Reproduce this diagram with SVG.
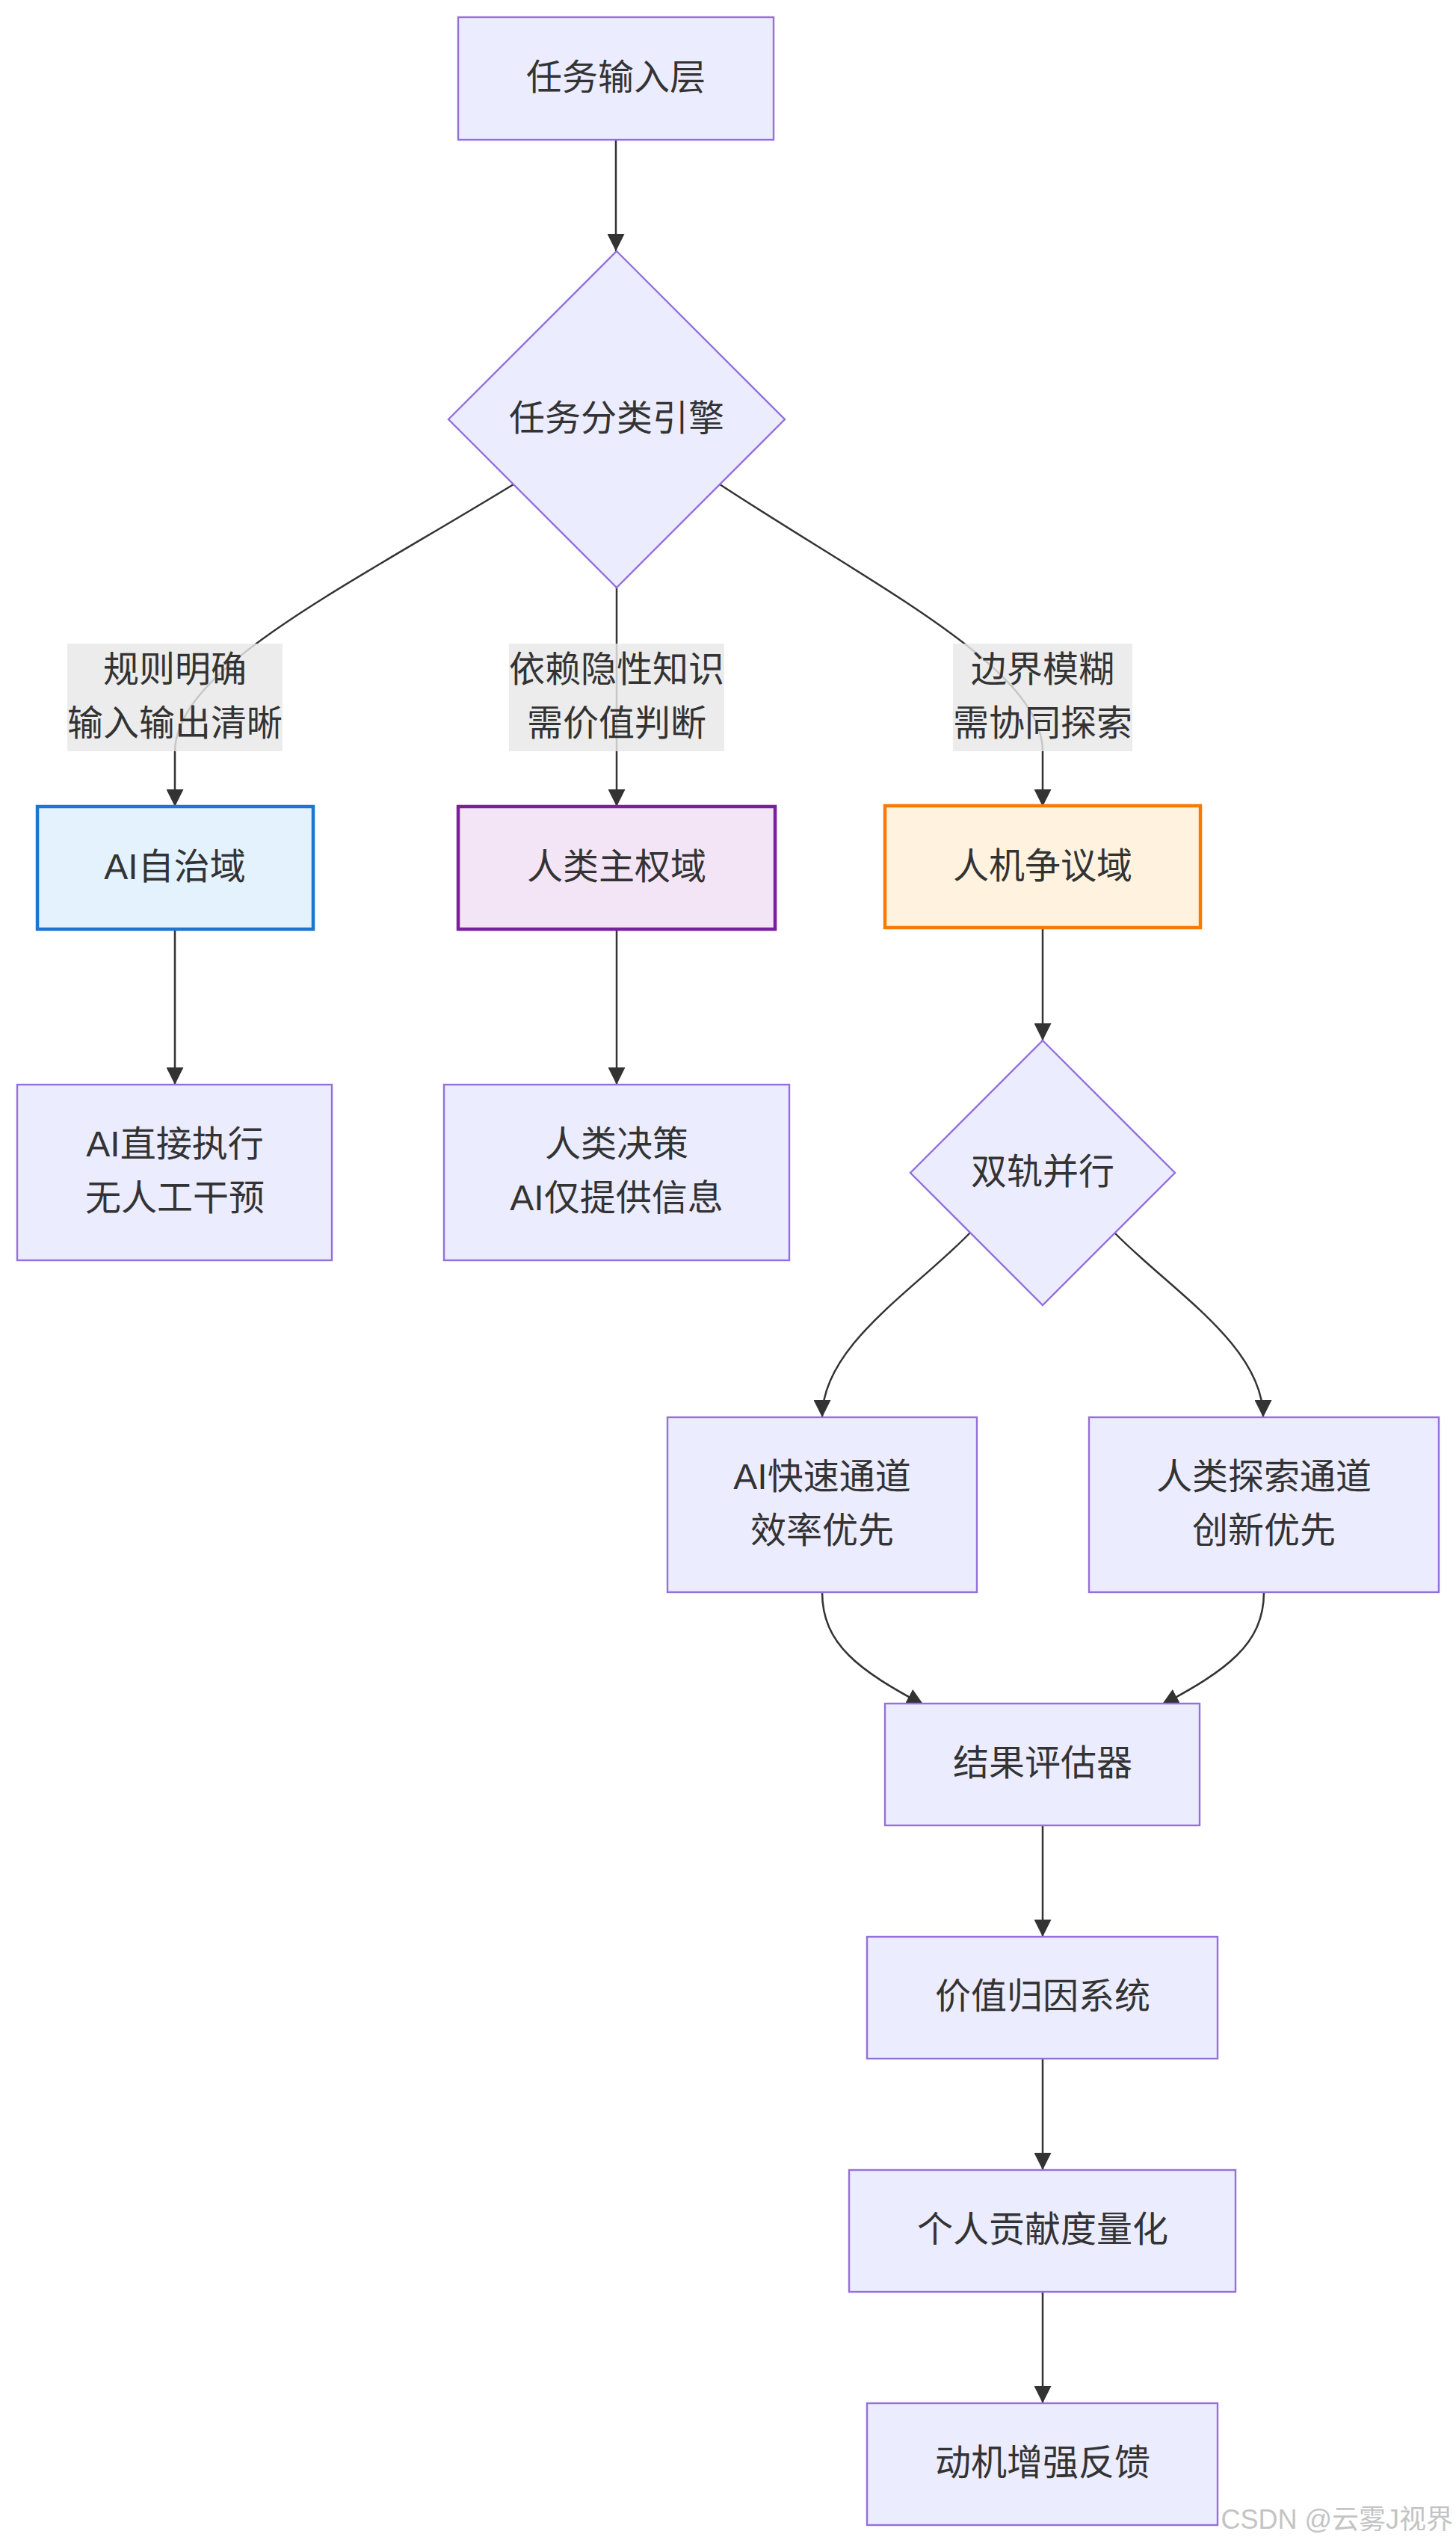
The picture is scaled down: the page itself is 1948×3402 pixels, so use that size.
<svg xmlns="http://www.w3.org/2000/svg" width="1948" height="3402" viewBox="0 0 1948 3402">
<style>
  .bg { fill: #ffffff; }
  .node { fill: #ececff; stroke: #9370db; stroke-width: 2.4; }
  .ai { fill: #e3f2fd; stroke: #1976d2; stroke-width: 4.5; }
  .human { fill: #f3e5f5; stroke: #7b1fa2; stroke-width: 4.5; }
  .dispute { fill: #fff3e0; stroke: #f57c00; stroke-width: 4.5; }
  .edge { fill: none; stroke: #333333; stroke-width: 2.5; }
  .lbl { fill: rgba(232,232,232,0.82); stroke: none; }
  text { font-family: "Liberation Sans", "Noto Sans CJK SC", sans-serif; font-size: 48px; fill: #333333; text-anchor: middle; dominant-baseline: central; }
  .wm { font-size: 36px; fill: #c4c4c4; text-anchor: end; dominant-baseline: alphabetic; }
</style>
<defs>
  <marker id="arr" viewBox="0 0 10 10" refX="10" refY="5" markerUnits="userSpaceOnUse" markerWidth="23" markerHeight="23" orient="auto">
    <path d="M0,0 L10,5 L0,10 z" fill="#333333"/>
  </marker>
</defs>
<rect class="bg" x="0" y="0" width="1948" height="3402"/>

<g id="edges">
  <path class="edge" d="M824,187 L824,336" marker-end="url(#arr)"/>
  <path class="edge" d="M687,648 C455,790 236,895 234,1005 L234,1079" marker-end="url(#arr)"/>
  <path class="edge" d="M825,786 L825,1079" marker-end="url(#arr)"/>
  <path class="edge" d="M963,648 C1180,790 1394,895 1395,1005 L1395,1079" marker-end="url(#arr)"/>
  <path class="edge" d="M234,1243 L234,1451" marker-end="url(#arr)"/>
  <path class="edge" d="M825,1243 L825,1451" marker-end="url(#arr)"/>
  <path class="edge" d="M1395,1241 L1395,1392" marker-end="url(#arr)"/>
  <path class="edge" d="M1298,1649 C1225,1725 1100,1800 1100,1896" marker-end="url(#arr)"/>
  <path class="edge" d="M1491,1649 C1565,1725 1690,1800 1690,1896" marker-end="url(#arr)"/>
  <path class="edge" d="M1100,2130 C1100,2200 1150,2235 1236,2281" marker-end="url(#arr)"/>
  <path class="edge" d="M1691,2130 C1691,2200 1640,2235 1554,2281" marker-end="url(#arr)"/>
  <path class="edge" d="M1395,2442 L1395,2591" marker-end="url(#arr)"/>
  <path class="edge" d="M1395,2754 L1395,2903" marker-end="url(#arr)"/>
  <path class="edge" d="M1395,3066 L1395,3215" marker-end="url(#arr)"/>
</g>

<g id="edge-labels">
  <g id="label-rule">
    <rect class="lbl" x="90" y="861" width="288" height="144"/>
    <text x="234" y="895">规则明确</text>
    <text x="234" y="967">输入输出清晰</text>
  </g>
  <g id="label-tacit">
    <rect class="lbl" x="681" y="861" width="288" height="144"/>
    <text x="825" y="895">依赖隐性知识</text>
    <text x="825" y="967">需价值判断</text>
  </g>
  <g id="label-fuzzy">
    <rect class="lbl" x="1275" y="861" width="240" height="144"/>
    <text x="1395" y="895">边界模糊</text>
    <text x="1395" y="967">需协同探索</text>
  </g>
</g>

<g id="node-input">
  <rect class="node" x="613" y="23" width="422" height="164"/>
  <text x="824" y="103">任务输入层</text>
</g>
<g id="node-classifier">
  <polygon class="node" points="825,336 1050,561 825,786 600,561"/>
  <text x="825" y="559">任务分类引擎</text>
</g>
<g id="node-ai-domain">
  <rect class="ai" x="50" y="1079" width="369" height="164"/>
  <text x="234" y="1159">AI自治域</text>
</g>
<g id="node-human-domain">
  <rect class="human" x="613" y="1079" width="424" height="164"/>
  <text x="825" y="1159">人类主权域</text>
</g>
<g id="node-dispute-domain">
  <rect class="dispute" x="1184" y="1078" width="422" height="163"/>
  <text x="1395" y="1158">人机争议域</text>
</g>
<g id="node-ai-exec">
  <rect class="node" x="23" y="1451" width="421" height="235"/>
  <text x="234" y="1530">AI直接执行</text>
  <text x="234" y="1602">无人工干预</text>
</g>
<g id="node-human-decide">
  <rect class="node" x="594" y="1451" width="462" height="235"/>
  <text x="825" y="1530">人类决策</text>
  <text x="825" y="1602">AI仅提供信息</text>
</g>
<g id="node-dual">
  <polygon class="node" points="1395,1392 1572,1569 1395,1746 1218,1569"/>
  <text x="1395" y="1567">双轨并行</text>
</g>
<g id="node-ai-fast">
  <rect class="node" x="893" y="1896" width="414" height="234"/>
  <text x="1100" y="1975">AI快速通道</text>
  <text x="1100" y="2047">效率优先</text>
</g>
<g id="node-human-explore">
  <rect class="node" x="1457" y="1896" width="468" height="234"/>
  <text x="1691" y="1975">人类探索通道</text>
  <text x="1691" y="2047">创新优先</text>
</g>
<g id="node-evaluator">
  <rect class="node" x="1184" y="2279" width="421" height="163"/>
  <text x="1395" y="2358">结果评估器</text>
</g>
<g id="node-attribution">
  <rect class="node" x="1160" y="2591" width="469" height="163"/>
  <text x="1395" y="2670">价值归因系统</text>
</g>
<g id="node-contribution">
  <rect class="node" x="1136" y="2903" width="517" height="163"/>
  <text x="1395" y="2982">个人贡献度量化</text>
</g>
<g id="node-feedback">
  <rect class="node" x="1160" y="3215" width="469" height="163"/>
  <text x="1395" y="3294">动机增强反馈</text>
</g>

<text class="wm" x="1944" y="3383">CSDN @云雾J视界</text>
</svg>
